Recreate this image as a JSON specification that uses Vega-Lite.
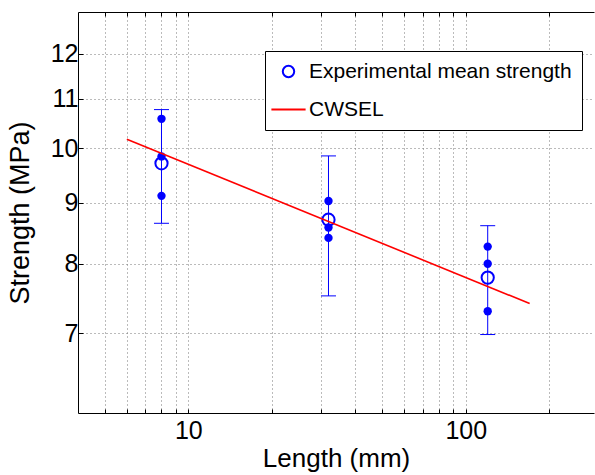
{
  "$schema": "https://vega.github.io/schema/vega-lite/v6.json",
  "width": 516,
  "height": 401,
  "autosize": {"type": "none"},
  "padding": {"left": 78, "top": 12, "right": 1, "bottom": 62},
  "background": "white",
  "config": {
    "view": {"stroke": null},
    "font": "Liberation Sans",
    "axis": {
      "labelFont": "Liberation Sans",
      "titleFont": "Liberation Sans",
      "labelColor": "black",
      "titleColor": "black",
      "titleFontWeight": "normal",
      "domainColor": "black",
      "domainWidth": 1,
      "tickColor": "black",
      "gridColor": "#777777",
      "gridDash": [1, 3],
      "gridWidth": 1
    },
    "legend": {
      "title": null,
      "orient": "none",
      "legendX": 187,
      "legendY": 39,
      "strokeColor": "black",
      "fillColor": "white",
      "padding": 10,
      "labelFont": "Liberation Sans",
      "labelFontSize": 21,
      "labelColor": "black",
      "labelLimit": 0,
      "symbolSize": 130,
      "symbolStrokeWidth": 2,
      "rowPadding": 16,
      "labelOffset": 10,
      "symbolOffset": 3
    }
  },
  "datasets": {
    "means": [
      {"length": 8, "mean": 9.71, "lo": 8.65, "hi": 10.77, "series": "Experimental mean strength"},
      {"length": 32, "mean": 8.71, "lo": 7.52, "hi": 9.85, "series": "Experimental mean strength"},
      {"length": 120, "mean": 7.79, "lo": 6.98, "hi": 8.61, "series": "Experimental mean strength"}
    ],
    "obs": [
      {"length": 8, "strength": 10.58},
      {"length": 8, "strength": 9.84},
      {"length": 8, "strength": 9.12},
      {"length": 32, "strength": 9.03},
      {"length": 32, "strength": 8.58},
      {"length": 32, "strength": 8.41},
      {"length": 120, "strength": 8.27},
      {"length": 120, "strength": 8.0},
      {"length": 120, "strength": 7.3}
    ],
    "fit": [
      {"length": 6, "strength": 10.17},
      {"length": 170, "strength": 7.41}
    ]
  },
  "layer": [
    {
      "data": {"name": "means"},
      "mark": {"type": "rule", "color": "#0000ff", "strokeWidth": 1},
      "encoding": {
        "x": {
          "field": "length", "type": "quantitative",
          "scale": {"type": "log", "domain": [4, 290], "nice": false},
          "axis": {
            "orient": "bottom",
            "title": "Length (mm)",
            "titleFontSize": 26,
            "titlePadding": 2,
            "values": [5, 6, 7, 8, 9, 10, 20, 30, 40, 50, 60, 70, 80, 90, 100, 200],
            "labelExpr": "(datum.value == 10 || datum.value == 100) ? format(datum.value, 'd') : ''",
            "labelFontSize": 25,
            "labelPadding": 9,
            "tickSize": -4,
            "grid": true
          }
        },
        "y": {
          "field": "lo", "type": "quantitative",
          "scale": {"type": "log", "domain": [6, 13], "nice": false},
          "axis": {
            "title": "Strength (MPa)",
            "titleFontSize": 27,
            "titlePadding": 16,
            "values": [7, 8, 9, 10, 11, 12],
            "format": "d",
            "labelFontSize": 25,
            "labelPadding": 5,
            "tickSize": -5,
            "grid": true
          }
        },
        "y2": {"field": "hi"}
      }
    },
    {
      "data": {"name": "means"},
      "mark": {"type": "point", "shape": "stroke", "size": 225, "filled": false, "color": "#0000ff", "strokeWidth": 1, "opacity": 1},
      "encoding": {
        "x": {"field": "length", "type": "quantitative", "scale": {"type": "log", "domain": [4, 290], "nice": false}, "axis": null},
        "y": {"field": "lo", "type": "quantitative", "scale": {"type": "log", "domain": [6, 13], "nice": false}}
      }
    },
    {
      "data": {"name": "means"},
      "mark": {"type": "point", "shape": "stroke", "size": 225, "filled": false, "color": "#0000ff", "strokeWidth": 1, "opacity": 1},
      "encoding": {
        "x": {"field": "length", "type": "quantitative", "scale": {"type": "log", "domain": [4, 290], "nice": false}, "axis": null},
        "y": {"field": "hi", "type": "quantitative", "scale": {"type": "log", "domain": [6, 13], "nice": false}}
      }
    },
    {
      "data": {"name": "obs"},
      "mark": {"type": "point", "shape": "circle", "size": 70, "filled": true, "color": "#0000ff", "opacity": 1, "strokeWidth": 0},
      "encoding": {
        "x": {"field": "length", "type": "quantitative", "scale": {"type": "log", "domain": [4, 290], "nice": false}, "axis": null},
        "y": {"field": "strength", "type": "quantitative", "scale": {"type": "log", "domain": [6, 13], "nice": false}}
      }
    },
    {
      "data": {"name": "means"},
      "mark": {"type": "point", "filled": false, "size": 150, "strokeWidth": 2, "opacity": 1},
      "encoding": {
        "x": {"field": "length", "type": "quantitative", "scale": {"type": "log", "domain": [4, 290], "nice": false}, "axis": null},
        "y": {"field": "mean", "type": "quantitative", "scale": {"type": "log", "domain": [6, 13], "nice": false}},
        "color": {
          "field": "series", "type": "nominal",
          "scale": {"domain": ["Experimental mean strength", "CWSEL"], "range": ["#0000ff", "#ff0000"]}
        },
        "shape": {
          "field": "series", "type": "nominal",
          "scale": {"domain": ["Experimental mean strength", "CWSEL"], "range": ["circle", "M-3,0H3"]}
        }
      }
    },
    {
      "data": {"name": "fit"},
      "mark": {"type": "line", "color": "#ff0000", "strokeWidth": 1.6},
      "encoding": {
        "x": {
          "field": "length", "type": "quantitative",
          "scale": {"type": "log", "domain": [4, 290], "nice": false},
          "axis": {
            "orient": "top",
            "title": null,
            "values": [5, 6, 7, 8, 9, 10, 20, 30, 40, 50, 60, 70, 80, 90, 100, 200],
            "labels": false,
            "tickSize": -4,
            "grid": false
          }
        },
        "y": {"field": "strength", "type": "quantitative", "scale": {"type": "log", "domain": [6, 13], "nice": false}}
      }
    }
  ],
  "resolve": {"axis": {"x": "independent"}}
}
